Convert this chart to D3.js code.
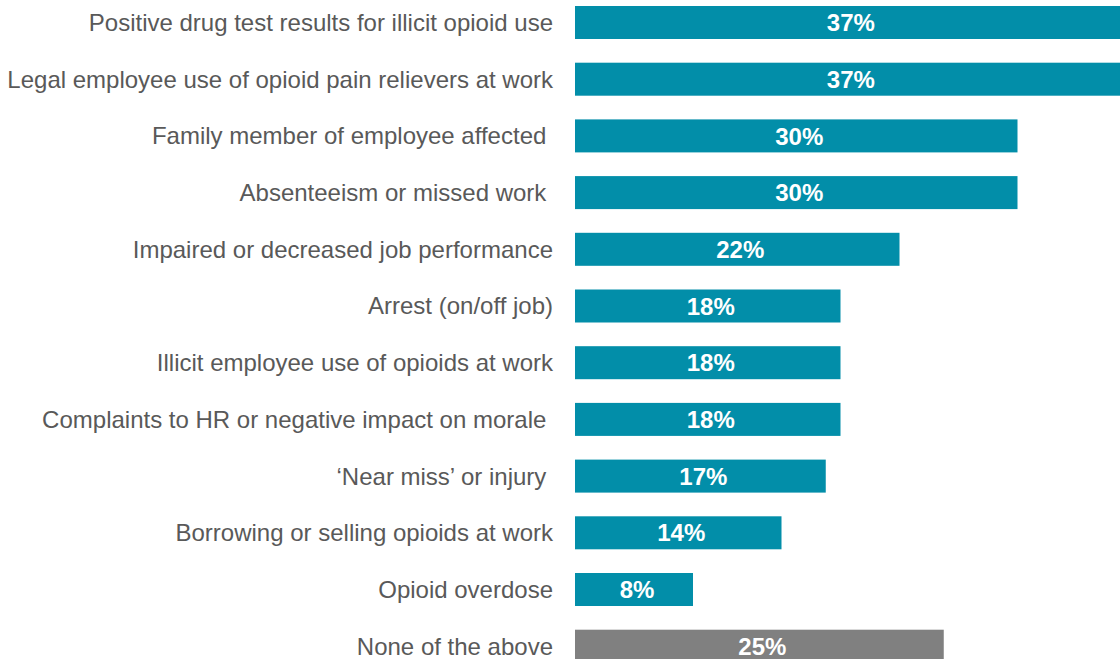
<!DOCTYPE html>
<html>
<head>
<meta charset="utf-8">
<script src="https://cdn.jsdelivr.net/npm/d3@7"></script>
<style>
  html, body { margin: 0; padding: 0; background: #ffffff; }
  svg { display: block; }
  text { white-space: pre; }
</style>
</head>
<body>
<svg id="chart" width="1120" height="659"></svg>
<script>
// Workplace opioid impacts reported by employers (share of respondents)
const categories = [
  "Positive drug test results for illicit opioid use",
  "Legal employee use of opioid pain relievers at work",
  "Family member of employee affected ",
  "Absenteeism or missed work ",
  "Impaired or decreased job performance",
  "Arrest (on/off job)",
  "Illicit employee use of opioids at work",
  "Complaints to HR or negative impact on morale ",
  "\u2018Near miss\u2019 or injury ",
  "Borrowing or selling opioids at work",
  "Opioid overdose",
  "None of the above"
];
const values = [37, 37, 30, 30, 22, 18, 18, 18, 17, 14, 8, 25];
const noneCategory = "None of the above";

const svg = d3.select("#chart");
const x0 = 575;

const x = d3.scaleLinear().domain([0, 1]).range([x0, x0 + 1475]);
const y = d3.scaleBand()
  .domain(categories)
  .range([6, 662.7])
  .paddingInner(0.418)
  .paddingOuter(0)
  .align(0);

const data = categories.map((c, i) => ({ cat: c, val: values[i] }));

const rows = svg.selectAll("g.row").data(data).enter().append("g").attr("class", "row");

rows.append("rect")
  .attr("x", x(0))
  .attr("y", d => y(d.cat))
  .attr("width", d => x(d.val / 100) - x(0))
  .attr("height", y.bandwidth())
  .attr("fill", d => d.cat === noneCategory ? "#808080" : "#028ea9");

rows.append("text")
  .attr("x", 553)
  .attr("y", d => y(d.cat) + y.bandwidth() / 2)
  .attr("dy", "0.35em")
  .attr("text-anchor", "end")
  .attr("font-family", "'Liberation Sans', Arial, sans-serif")
  .attr("font-size", 24)
  .attr("fill", "#595959")
  .text(d => d.cat);

rows.append("text")
  .attr("x", d => (x(0) + x(d.val / 100)) / 2 + 3)
  .attr("y", d => y(d.cat) + y.bandwidth() / 2)
  .attr("dy", "0.36em")
  .attr("text-anchor", "middle")
  .attr("font-family", "'Liberation Sans', Arial, sans-serif")
  .attr("font-weight", "bold")
  .attr("font-size", 24)
  .attr("fill", "#ffffff")
  .text(d => d3.format(".0f")(d.val) + "%");
</script>
</body>
</html>
